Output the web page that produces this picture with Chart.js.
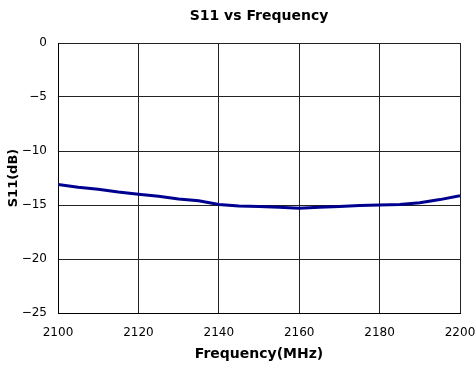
<!DOCTYPE html>
<html>
<head>
<meta charset="utf-8">
<script src="https://cdn.jsdelivr.net/npm/chart.js@4/dist/chart.umd.min.js"></script>
<style>
    body { margin: 0; background: #fff; }
    canvas { display: block; }
</style>
</head>
<body>
<canvas id="s11Chart" width="475" height="372"></canvas>
<script>
// frequency points (MHz) and S11 values (dB)
const freqs = [2100, 2105, 2110, 2115, 2120, 2125, 2130, 2135, 2140, 2145, 2150,
               2155, 2160, 2165, 2170, 2175, 2180, 2185, 2190, 2195, 2200];
const s11 = [-13.1, -13.35, -13.55, -13.8, -14.0, -14.2, -14.45, -14.6, -14.95, -15.1, -15.15,
             -15.2, -15.3, -15.2, -15.15, -15.05, -15.0, -14.95, -14.8, -14.5, -14.15];
const xTicks = [2100, 2120, 2140, 2160, 2180, 2200];
const yTicks = [0, -5, -10, -15, -20, -25];

const chartTitle = 'S11 vs Frequency';
const xTitle = 'Frequency(MHz)';
const yTitle = 'S11(dB)';

// title centred over the plot area, not over the whole canvas
const titlePlugin = {
    id: 'plotTitle',
    afterDraw(chart) {
        const ctx = chart.ctx;
        const area = chart.chartArea;
        ctx.save();
        ctx.font = 'bold 14px "DejaVu Sans"';
        ctx.fillStyle = '#000';
        ctx.textAlign = 'center';
        ctx.textBaseline = 'middle';
        ctx.fillText(chartTitle, (area.left + area.right) / 2, 16);
        ctx.restore();
    }
};

const ctx = document.getElementById('s11Chart').getContext('2d');
new Chart(ctx, {
    type: 'line',
    data: {
        datasets: [{
            label: 'S11',
            data: freqs.map((f, i) => ({ x: f, y: s11[i] })),
            borderColor: '#000090',
            borderWidth: 3,
            pointRadius: 0,
            tension: 0,
            fill: false
        }]
    },
    options: {
        responsive: false,
        animation: false,
        layout: { padding: { top: 43, right: 0, left: 0, bottom: 0 } },
        plugins: {
            legend: { display: false },
            tooltip: { enabled: false },
            title: { display: false }
        },
        scales: {
            x: {
                type: 'linear',
                min: 2100,
                max: 2200,
                afterBuildTicks: scale => { scale.ticks = xTicks.map(v => ({ value: v })); },
                afterFit: scale => {
                    scale.height = 59;
                    scale.paddingLeft = 0;
                    scale.paddingRight = 15;
                },
                grid: { color: '#222', lineWidth: 1, drawTicks: false },
                border: { color: '#000', width: 1 },
                ticks: {
                    padding: 13,
                    color: '#000',
                    maxRotation: 0,
                    font: { family: 'DejaVu Sans', size: 12 },
                    callback: v => String(v)
                },
                title: {
                    display: true,
                    text: xTitle,
                    color: '#000',
                    font: { family: 'DejaVu Sans', size: 14, weight: 'bold' },
                    padding: { top: 4, bottom: 9 }
                }
            },
            y: {
                min: -25,
                max: 0,
                afterBuildTicks: scale => { scale.ticks = yTicks.map(v => ({ value: v })); },
                afterFit: scale => { scale.width = 58; },
                grid: { color: '#222', lineWidth: 1, drawTicks: false },
                border: { color: '#000', width: 1 },
                ticks: {
                    padding: 11,
                    color: '#000',
                    font: { family: 'DejaVu Sans', size: 12 },
                    callback: v => (v < 0 ? '\u2212' + Math.abs(v) : String(v))
                },
                title: {
                    display: true,
                    text: yTitle,
                    color: '#000',
                    font: { family: 'DejaVu Sans', size: 13, weight: 'bold' },
                    padding: { top: 6, bottom: 0 }
                }
            }
        }
    },
    plugins: [titlePlugin]
});
</script>
</body>
</html>
